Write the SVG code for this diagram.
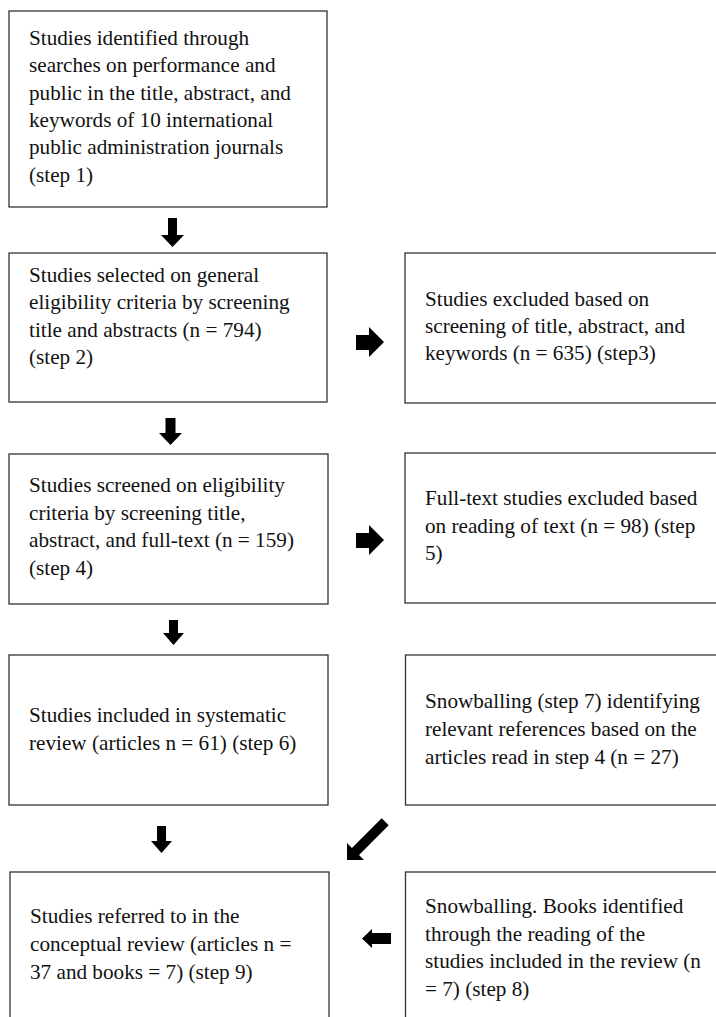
<svg xmlns="http://www.w3.org/2000/svg" width="716" height="1017" viewBox="0 0 716 1017">
<style>
.box{fill:#fff;stroke:#333;stroke-width:1.3}
.t{font-family:"Liberation Serif","Times New Roman",serif;font-size:21.2px;fill:#111}
.ar{fill:#000}
</style>
<rect width="716" height="1017" fill="#fff"/>
<g id="n1"><rect class="box" x="9" y="11" width="318" height="196"/>
<text class="t"><tspan x="29" y="45">Studies identified through</tspan><tspan x="29" y="72.3">searches on performance and</tspan><tspan x="29" y="99.6">public in the title, abstract, and</tspan><tspan x="29" y="126.9">keywords of 10 international</tspan><tspan x="29" y="154.2">public administration journals</tspan><tspan x="29" y="181.5">(step 1)</tspan></text></g>
<g id="n2"><rect class="box" x="9" y="253" width="318" height="149"/>
<text class="t"><tspan x="29" y="282">Studies selected on general</tspan><tspan x="29" y="309.3">eligibility criteria by screening</tspan><tspan x="29" y="336.6">title and abstracts (n = 794)</tspan><tspan x="29" y="363.9">(step 2)</tspan></text></g>
<g id="n3"><rect class="box" x="405" y="253" width="320" height="150"/>
<text class="t"><tspan x="425" y="305.5">Studies excluded based on</tspan><tspan x="425" y="332.8">screening of title, abstract, and</tspan><tspan x="425" y="360.1">keywords (n = 635) (step3)</tspan></text></g>
<g id="n4"><rect class="box" x="9" y="454" width="319" height="150"/>
<text class="t"><tspan x="29" y="492">Studies screened on eligibility</tspan><tspan x="29" y="519.5">criteria by screening title,</tspan><tspan x="29" y="547">abstract, and full-text (n = 159)</tspan><tspan x="29" y="574.5">(step 4)</tspan></text></g>
<g id="n5"><rect class="box" x="405" y="453" width="320" height="150"/>
<text class="t"><tspan x="425" y="505">Full-text studies excluded based</tspan><tspan x="425" y="532.5">on reading of text (n = 98) (step</tspan><tspan x="425" y="560">5)</tspan></text></g>
<g id="n6"><rect class="box" x="9" y="655" width="319" height="150"/>
<text class="t"><tspan x="29" y="721.5">Studies included in systematic</tspan><tspan x="29" y="749.5">review (articles n = 61) (step 6)</tspan></text></g>
<g id="n7"><rect class="box" x="405.5" y="655" width="320" height="150"/>
<text class="t"><tspan x="425" y="708">Snowballing (step 7) identifying</tspan><tspan x="425" y="736">relevant references based on the</tspan><tspan x="425" y="764">articles read in step 4 (n = 27)</tspan></text></g>
<g id="n8"><rect class="box" x="10" y="872" width="319" height="160"/>
<text class="t"><tspan x="30" y="923">Studies referred to in the</tspan><tspan x="30" y="951">conceptual review (articles n =</tspan><tspan x="30" y="979">37 and books = 7) (step 9)</tspan></text></g>
<g id="n9"><rect class="box" x="405.5" y="872" width="320" height="160"/>
<text class="t"><tspan x="425" y="913">Snowballing. Books identified</tspan><tspan x="425" y="940.5">through the reading of the</tspan><tspan x="425" y="968">studies included in the review (n</tspan><tspan x="425" y="995.5">= 7) (step 8)</tspan></text></g>
<g id="connectors" class="ar">
<polygon points="168,218 177,218 177,235 184,235 172.5,247 161,235 168,235"/>
<polygon points="165.5,418 175.5,418 175.5,433 182,433 170.5,445 159,433 165.5,433"/>
<polygon points="169,620 178,620 178,633 184,633 173.5,645 163,633 169,633"/>
<polygon points="157,826 166,826 166,841 172,841 161.5,853 151,841 157,841"/>
<polygon points="356,335 369,335 369,327 384,342 369,357 369,350 356,350"/>
<polygon points="356,533 369,533 369,525 384,540 369,555 369,548 356,548"/>
<polygon points="391,933 372,933 372,929 362,938.5 372,948 372,944 391,944"/>
<g transform="translate(347,860) rotate(-45)"><polygon points="0,0 12,-12 12,-5 54,-5 54,5 12,5 12,12"/></g>
</g>
</svg>
